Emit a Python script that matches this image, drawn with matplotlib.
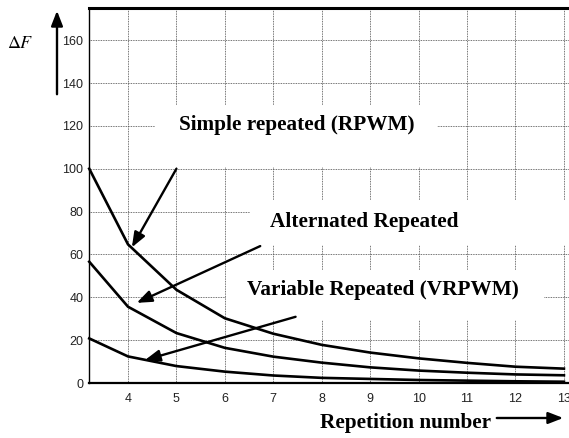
import numpy as np
import matplotlib
matplotlib.use('Agg')
import matplotlib.pyplot as plt
from matplotlib.patches import Rectangle

# 繰り返し回数（左端は軸の始まり）
reps = [3.2, 4, 5, 6, 7, 8, 9, 10, 11, 12, 13]
# 各方式のΔF
simple_rpwm = [100, 64.7, 43.5, 30.2, 23.0, 17.8, 14.2, 11.5, 9.4, 7.6, 6.7]
alternated = [56.6, 35.6, 23.3, 16.4, 12.3, 9.5, 7.3, 5.8, 4.8, 4.0, 3.6]
variable_vrpwm = [20.8, 12.4, 7.9, 5.3, 3.5, 2.4, 1.9, 1.4, 1.1, 0.8, 0.6]

xticks = [4, 5, 6, 7, 8, 9, 10, 11, 12, 13]
yticks = [0, 20, 40, 60, 80, 100, 120, 140, 160]

serif = ['Liberation Serif', 'DejaVu Serif']
plt.rcParams['font.family'] = ['Liberation Sans', 'DejaVu Sans']

fig = plt.figure(figsize=(5.69, 4.38), dpi=100)
W, H = 569, 438
# 軸は右端で切れる
ax = fig.add_axes([89 / W, 1 - 383 / H, (577 - 89) / W, (383 - 8) / H])
ax.set_xlim(3.195, 13.27)
ax.set_ylim(0, 175)

ax.set_xticks(xticks)
ax.set_yticks(yticks)
ax.tick_params(length=0, labelsize=9, colors='#222222')
ax.tick_params(axis='y', pad=4)
ax.tick_params(axis='x', pad=7)
ax.grid(True, color='#444444', linestyle=(0, (1, 1)), linewidth=0.6)
ax.set_axisbelow(True)

ax.spines['right'].set_visible(False)
ax.spines['top'].set_linewidth(2.2)
ax.spines['bottom'].set_linewidth(1.6)
ax.spines['left'].set_linewidth(1.0)

# ラベルの背景（グリッドを隠す白い箱）
for x0, x1, y0, y1 in [(4.56, 10.38, 101, 129.7),
                       (6.52, 13.5, 64.5, 85.5),
                       (6.02, 12.59, 29.5, 52.7)]:
    ax.add_patch(Rectangle((x0, y0), x1 - x0, y1 - y0, facecolor='white',
                           edgecolor='none', zorder=1.5))

for ys in (simple_rpwm, alternated, variable_vrpwm):
    ax.plot(reps, ys, color='black', lw=1.9, solid_joinstyle='miter', zorder=3,
            clip_on=False)

lab = dict(fontsize=15.3, fontweight='bold', family=serif, ha='center',
           va='center', zorder=4)
ax.text(7.49, 120.4, 'Simple repeated (RPWM)', **lab)
ax.text(8.88, 75.1, 'Alternated Repeated', **lab)
ax.text(9.27, 43.4, 'Variable Repeated (VRPWM)', **lab)

arr = dict(arrowstyle='-|>,head_length=0.9,head_width=0.35', color='black',
           lw=1.7, shrinkA=0, shrinkB=0)
ax.annotate('', xy=(4.08, 63.3), xytext=(5.0, 100), arrowprops=arr, zorder=5)
ax.annotate('', xy=(4.18, 37.4), xytext=(6.73, 63.9), arrowprops=arr, zorder=5)
ax.annotate('', xy=(4.35, 10.7), xytext=(7.46, 30.9), arrowprops=arr, zorder=5)

# 縦軸・横軸の矢印とラベル
fig.text(20 / W, 1 - 44 / H, r'$\Delta F$', fontsize=13, ha='center',
         va='center', family=serif, math_fontfamily='stix')
fig.add_artist(matplotlib.patches.FancyArrowPatch(
    (57 / W, 1 - 97 / H), (57 / W, 1 - 8 / H), transform=fig.transFigure,
    arrowstyle='-|>,head_length=0.9,head_width=0.35', color='black', lw=1.7,
    mutation_scale=10))
fig.text(406 / W, 1 - 423 / H, 'Repetition number', fontsize=15.3,
         fontweight='bold', family=serif, ha='center', va='center')
fig.add_artist(matplotlib.patches.FancyArrowPatch(
    (494 / W, 1 - 418 / H), (566 / W, 1 - 418 / H), transform=fig.transFigure,
    arrowstyle='-|>,head_length=0.9,head_width=0.35', color='black', lw=1.7,
    mutation_scale=10))

fig.savefig('out.png', dpi=100)
